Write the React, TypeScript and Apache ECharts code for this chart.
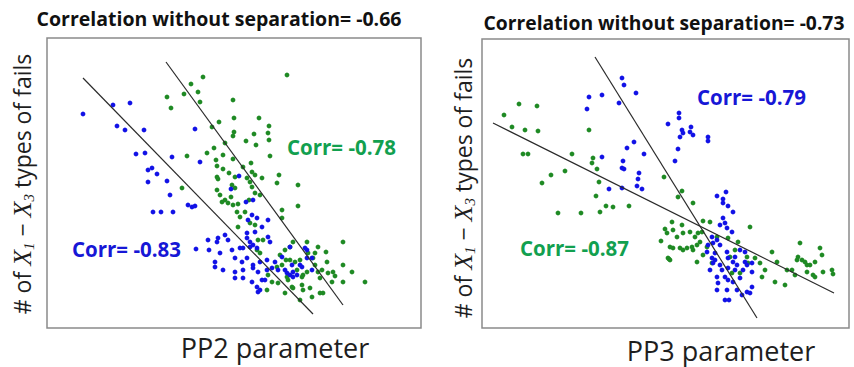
import { useEffect, useRef } from 'react';
import * as echarts from 'echarts';

// PP2 panel: [PP2 value, X1–X3 fails], arbitrary units
const pp2Blue: [number, number][] = [
  [36, 214], [66, 223], [83, 225], [70, 202], [78, 198], [97, 198], [148, 199], [89, 174], [98, 175],
  [125, 171], [153, 166], [105, 160], [101, 158], [110, 154], [101, 146], [120, 147], [123, 133],
  [106, 116], [114, 116], [126, 116], [141, 123], [145, 121], [148, 122], [184, 139], [192, 152],
  [149, 79], [161, 88], [162, 78], [171, 90], [178, 93], [181, 88], [170, 86], [173, 75], [185, 78],
  [193, 80], [168, 66], [176, 58], [188, 70], [195, 66], [200, 70], [206, 63], [213, 66], [220, 68],
  [188, 56], [196, 58], [206, 60], [211, 56], [220, 58], [225, 60], [188, 50], [196, 50], [205, 46],
  [215, 48], [218, 48], [210, 41], [211, 36], [206, 128], [199, 126], [205, 113], [201, 108], [210, 110],
  [221, 108], [215, 101], [208, 96], [200, 95], [200, 90], [203, 86], [221, 91], [223, 86], [203, 81],
  [196, 80], [210, 80], [206, 83], [235, 71], [238, 58], [245, 63], [246, 56], [253, 63], [243, 53],
  [231, 58], [260, 78], [260, 70], [243, 81], [265, 70], [228, 66], [213, 38], [250, 53], [255, 61],
  [265, 58], [240, 55], [246, 51], [258, 80], [168, 61],
];

const pp2Green: [number, number][] = [
  [240, 253], [156, 251], [144, 244], [151, 236], [137, 234], [120, 231], [153, 226], [124, 220],
  [186, 228], [172, 206], [187, 210], [212, 210], [222, 202], [165, 201], [187, 196], [186, 192],
  [207, 194], [221, 195], [199, 187], [222, 188], [209, 183], [178, 185], [167, 180], [160, 175],
  [176, 173], [140, 172], [223, 172], [169, 168], [186, 169], [170, 162], [176, 159], [182, 155],
  [196, 161], [204, 165], [205, 156], [215, 150], [208, 153], [170, 151], [171, 149], [188, 151],
  [200, 150], [203, 146], [205, 141], [185, 143], [188, 140], [170, 138], [173, 133], [184, 131],
  [178, 128], [181, 125], [191, 124], [186, 123], [208, 135], [213, 133], [202, 128], [232, 153],
  [230, 145], [251, 143], [251, 122], [193, 111], [235, 110], [135, 140], [175, 126], [190, 116],
  [203, 105], [208, 103], [191, 101], [211, 88], [216, 88], [246, 86], [260, 86], [296, 86],
  [210, 78], [213, 75], [238, 78], [243, 81], [233, 73], [239, 68], [243, 68], [248, 66], [253, 68],
  [261, 75], [266, 70], [271, 81], [279, 76], [280, 66], [268, 63], [271, 56], [286, 56], [288, 52],
  [296, 63], [305, 56], [296, 46], [318, 46], [285, 46], [273, 50], [231, 45], [241, 48], [245, 41],
  [255, 43], [256, 38], [263, 40], [265, 31], [253, 28], [238, 35], [220, 38], [225, 46], [221, 53],
  [230, 61], [235, 63], [250, 58], [256, 53], [260, 56], [273, 35], [276, 35], [235, 118], [198, 116],
  [255, 51], [240, 51], [246, 40], [275, 58], [268, 75], [281, 55],
];

// Least-squares fit lines, end points per colour group
const pp2BlueFit: [number, number][] = [[36, 250], [266, 14]];
const pp2GreenFit: [number, number][] = [[119, 266], [296, 23]];

// PP3 panel: [PP3 value, X1–X3 fails], arbitrary units
const pp3Blue: [number, number][] = [
  [140, 250], [142, 243], [154, 235], [120, 233], [107, 231], [137, 225], [105, 219], [186, 204],
  [152, 186], [145, 180], [162, 174], [120, 171], [141, 167], [140, 160], [142, 159], [157, 155],
  [156, 149], [155, 142], [160, 139], [127, 139], [140, 140], [197, 215], [197, 210], [200, 198],
  [201, 195], [209, 201], [208, 196], [211, 193], [198, 191], [226, 191], [226, 187], [196, 179],
  [193, 167], [235, 132], [244, 136], [241, 129], [241, 125], [246, 122], [251, 116], [241, 110],
  [243, 105], [238, 103], [245, 100], [250, 96], [230, 91], [235, 88], [226, 83], [231, 85], [238, 83],
  [258, 78], [263, 76], [245, 76], [233, 75], [230, 70], [233, 68], [231, 65], [238, 63], [246, 70],
  [253, 71], [251, 66], [255, 63], [263, 66], [265, 63], [270, 65], [228, 58], [240, 58], [246, 60],
  [253, 58], [261, 58], [270, 56], [235, 51], [243, 51], [246, 48], [251, 46], [258, 50], [236, 45],
  [235, 38], [245, 38], [255, 38], [260, 33], [265, 36], [270, 41], [243, 28], [247, 28], [268, 35],
  [225, 76],
];

const pp3Green: [number, number][] = [
  [37, 224], [55, 222], [22, 213], [30, 201], [43, 198], [56, 197], [107, 198], [41, 174], [46, 174],
  [90, 174], [111, 170], [110, 165], [115, 159], [83, 157], [69, 153], [60, 145], [117, 146], [182, 151],
  [114, 132], [124, 122], [131, 121], [147, 122], [76, 115], [99, 115], [118, 116], [183, 99], [185, 95],
  [179, 87], [187, 69], [196, 131], [200, 137], [211, 125], [190, 106], [191, 98], [200, 103],
  [221, 107], [228, 106], [268, 101], [195, 91], [201, 95], [208, 96], [213, 91], [216, 95], [220, 96],
  [218, 86], [215, 83], [210, 81], [205, 80], [198, 80], [191, 80], [188, 81], [201, 78], [211, 78],
  [186, 70], [188, 68], [215, 66], [221, 73], [225, 81], [235, 91], [246, 90], [253, 78], [256, 86],
  [230, 65], [248, 71], [265, 71], [273, 70], [278, 65], [283, 58], [290, 76], [295, 66], [266, 65],
  [258, 55], [250, 55], [280, 51], [293, 46], [303, 43], [305, 58], [310, 58], [313, 53], [318, 85],
  [316, 71], [320, 68], [323, 66], [325, 63], [328, 63], [333, 66], [338, 80], [340, 73], [331, 53],
  [333, 51], [341, 56], [350, 58], [351, 54], [325, 56], [315, 68],
];

const pp3BlueFit: [number, number][] = [[113, 271], [275, 10]];
const pp3GreenFit: [number, number][] = [[11, 205], [352, 35]];

const titles = ['Correlation without separation= -0.66', 'Correlation without separation= -0.73'];
const xNames = ['PP2 parameter', 'PP3 parameter'];
const pp2Corr = ['Corr= -0.83', 'Corr= -0.78'];
const pp3Corr = ['Corr= -0.79', 'Corr= -0.87'];

const BLUE = '#1212e6';
const GREEN = '#1f8a24';
const BLUE_TEXT = '#1717d6';
const GREEN_TEXT = '#12a04f';
const FIT = '#2b2b2b';
const FONT = '"Open Sans", "DejaVu Sans", sans-serif';
const SERIF = '"Liberation Serif", "DejaVu Serif", serif';

const panels = [
  { left: 47, top: 38, width: 374, height: 290, xMax: 374, yMax: 290 },
  { left: 482, top: 39, width: 367, height: 289, xMax: 367, yMax: 289 },
];

function yLabel(x: number, y: number) {
  return {
    type: 'text',
    x,
    y,
    rotation: Math.PI / 2,
    style: {
      text: '# of {x|X}{s|1} − {x|X}{s|3} types of fails',
      fill: '#1e1e1e',
      font: `23px ${FONT}`,
      align: 'center',
      verticalAlign: 'middle',
      textAlign: 'center',
      textVerticalAlign: 'middle',
      lineHeight: 28,
      rich: {
        x: { fontFamily: SERIF, fontStyle: 'italic', fontSize: 26, fill: '#1e1e1e', lineHeight: 28 },
        s: { fontFamily: SERIF, fontStyle: 'italic', fontSize: 15, fill: '#1e1e1e', verticalAlign: 'bottom', lineHeight: 28 },
      },
    },
  };
}

function label(text: string, x: number, y: number, fill: string, size: number, weight: string, align = 'left') {
  return {
    type: 'text',
    x,
    y,
    style: {
      text,
      fill,
      font: `${weight} ${size}px ${FONT}`,
      align,
      verticalAlign: 'middle',
      textAlign: align,
      textVerticalAlign: 'middle',
      lineHeight: size + 1,
    },
  };
}

export default function App() {
  const ref = useRef<HTMLDivElement>(null);

  useEffect(() => {
    if (!ref.current) return;
    const chart = echarts.init(ref.current, null, { renderer: 'svg' });

    const axisOff = { show: false };
    const scatter = (data: [number, number][], idx: number, color: string, z: number) => ({
      type: 'scatter',
      xAxisIndex: idx,
      yAxisIndex: idx,
      data,
      symbolSize: 4.8,
      itemStyle: { color, opacity: 1 },
      z,
    });
    const fit = (data: [number, number][], idx: number) => ({
      type: 'line',
      xAxisIndex: idx,
      yAxisIndex: idx,
      data,
      symbol: 'none',
      lineStyle: { color: FIT, width: 1.2 },
      z: 5,
    });

    chart.setOption({
      animation: false,
      backgroundColor: '#ffffff',
      grid: panels.map((p) => ({
        left: p.left,
        top: p.top,
        width: p.width,
        height: p.height,
        show: true,
        borderColor: '#8a8a8a',
        borderWidth: 1.5,
        backgroundColor: 'transparent',
      })),
      xAxis: panels.map((p, i) => ({
        type: 'value',
        gridIndex: i,
        min: 0,
        max: p.xMax,
        ...axisOff,
        splitLine: { show: false },
      })),
      yAxis: panels.map((p, i) => ({
        type: 'value',
        gridIndex: i,
        min: 0,
        max: p.yMax,
        ...axisOff,
        splitLine: { show: false },
      })),
      series: [
        scatter(pp2Green, 0, GREEN, 2),
        scatter(pp2Blue, 0, BLUE, 3),
        fit(pp2BlueFit, 0),
        fit(pp2GreenFit, 0),
        scatter(pp3Green, 1, GREEN, 2),
        scatter(pp3Blue, 1, BLUE, 3),
        fit(pp3BlueFit, 1),
        fit(pp3GreenFit, 1),
      ],
      graphic: [
        label(titles[0], 219, 18, '#111111', 19.5, 'bold', 'center'),
        label(titles[1], 664, 22, '#111111', 19.3, 'bold', 'center'),
        label(xNames[0], 275, 347, '#1e1e1e', 27, 'normal', 'center'),
        label(xNames[1], 721, 350, '#1e1e1e', 27, 'normal', 'center'),
        label(pp2Corr[0], 72, 249, BLUE_TEXT, 20.5, 'bold'),
        label(pp2Corr[1], 287, 147, GREEN_TEXT, 20.5, 'bold'),
        label(pp3Corr[0], 697, 97, BLUE_TEXT, 20.5, 'bold'),
        label(pp3Corr[1], 520, 248, GREEN_TEXT, 20.5, 'bold'),
        yLabel(22, 184),
        yLabel(463, 188),
      ],
    });

    return () => chart.dispose();
  }, []);

  return (
    <div
      ref={ref}
      style={{ position: 'fixed', left: 0, top: 0, width: 854, height: 367, background: '#fff' }}
    />
  );
}
